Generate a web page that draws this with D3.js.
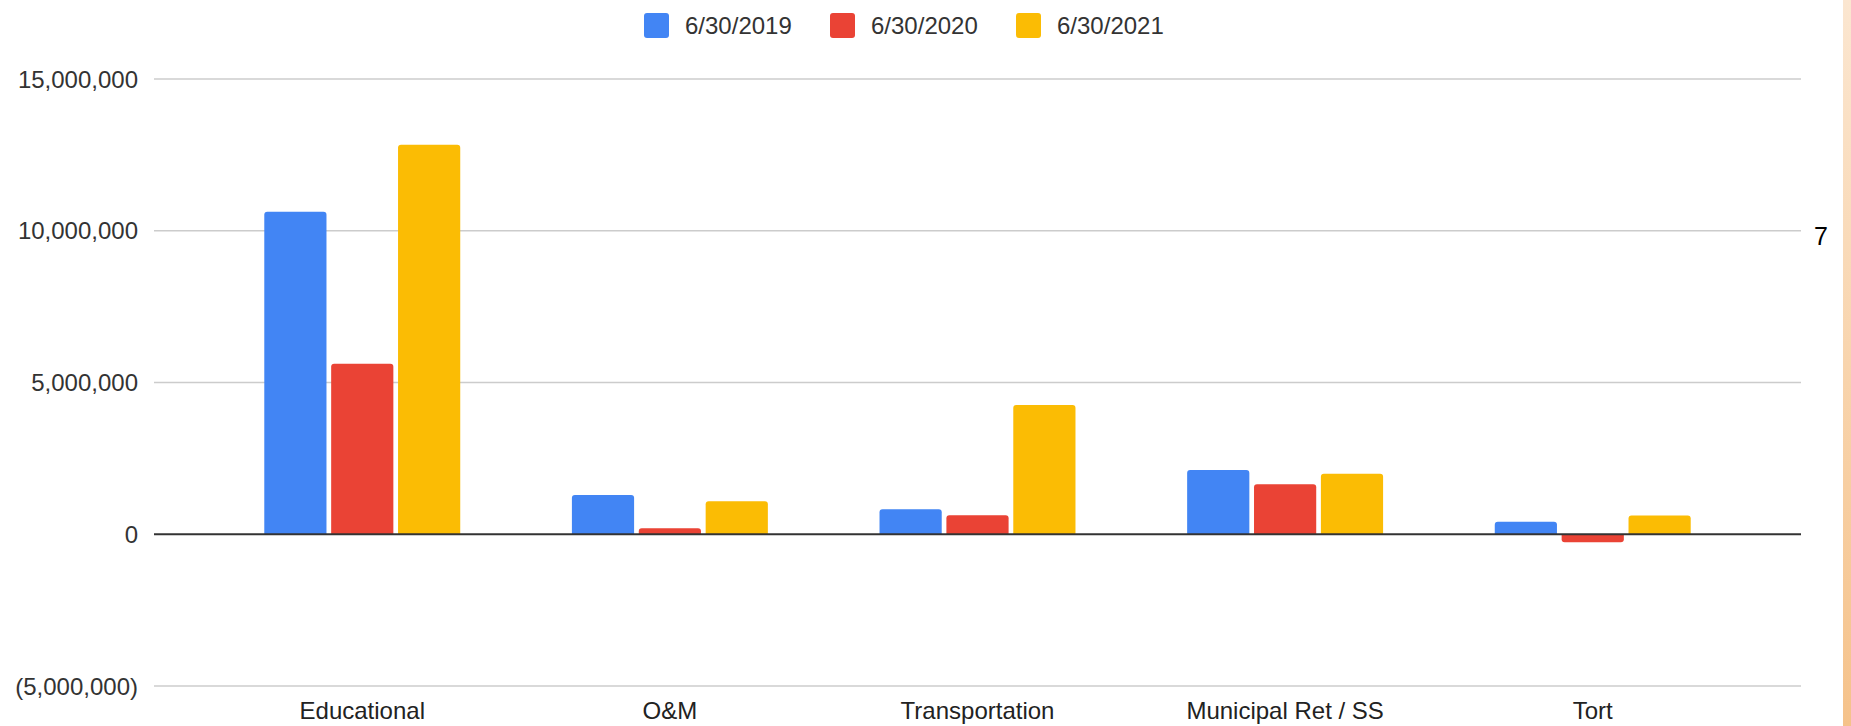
<!DOCTYPE html>
<html>
<head>
<meta charset="utf-8">
<script src="https://cdn.jsdelivr.net/npm/d3@7"></script>
<style>
  html, body { margin: 0; padding: 0; background: #fff; }
  svg { display: block; font-family: Arial, "Liberation Sans", sans-serif; }
</style>
</head>
<body>
<svg id="chart" width="1851" height="726"></svg>
<script>
// Fund balances by fund, three fiscal year-ends
const categories = ["Educational", "O&M", "Transportation", "Municipal Ret / SS", "Tort"];
const seriesNames = ["6/30/2019", "6/30/2020", "6/30/2021"];
const fy2019 = [10630000, 1290000, 820000, 2120000, 410000];
const fy2020 = [5620000, 200000, 630000, 1650000, -265000];
const fy2021 = [12830000, 1090000, 4260000, 1990000, 620000];
const seriesColors = ["#4285f4", "#ea4335", "#fbbc04"];
const yTicks = [-5000000, 0, 5000000, 10000000, 15000000];
const pageNumber = "7";

const series = [fy2019, fy2020, fy2021];

const W = 1851, H = 726;
const plot = { left: 154, right: 1801, top: 79, bottom: 686 };

const svg = d3.select("#chart");

// Decorative peach band at the right edge
const defs = svg.append("defs");
const grad = defs.append("linearGradient")
  .attr("id", "edgeBand").attr("x1", 0).attr("y1", 0).attr("x2", 0).attr("y2", 1);
grad.append("stop").attr("offset", "0%").attr("stop-color", "#fbe6d0");
grad.append("stop").attr("offset", "100%").attr("stop-color", "#f5c28a");
svg.append("rect")
  .attr("x", 1843).attr("y", 0).attr("width", W - 1843).attr("height", H)
  .attr("fill", "url(#edgeBand)");

const y = d3.scaleLinear()
  .domain([d3.min(yTicks), d3.max(yTicks)])
  .range([plot.bottom, plot.top]);

const x0 = d3.scaleBand()
  .domain(categories)
  .range([plot.left, plot.right])
  .paddingInner(0.363)
  .paddingOuter(0.3585);

const x1 = d3.scaleBand()
  .domain(seriesNames)
  .range([0, x0.bandwidth()])
  .paddingInner(0.07);

const fmt = v => {
  const s = d3.format(",")(Math.abs(v));
  return v < 0 ? "(" + s + ")" : s;
};

// Gridlines
svg.append("g").selectAll("line")
  .data(yTicks.filter(t => t !== 0))
  .join("line")
  .attr("x1", plot.left).attr("x2", plot.right)
  .attr("y1", d => y(d)).attr("y2", d => y(d))
  .attr("stroke", "#cccccc").attr("stroke-width", 1.5);

// Y axis labels
const yAxis = d3.axisLeft(y).tickValues(yTicks).tickFormat(fmt).tickSize(0).tickPadding(0);
const gy = svg.append("g").attr("transform", `translate(138,0)`).call(yAxis);
gy.select(".domain").remove();
gy.selectAll("text")
  .attr("font-size", 24)
  .attr("font-family", "Arial, 'Liberation Sans', sans-serif")
  .attr("fill", "#333")
  .attr("dy", "0.34em");

// Bars with rounded outer corners
function barPath(x, w, v) {
  const y0 = y(0), y1 = y(v);
  const r = Math.min(3, Math.abs(y1 - y0));
  if (v >= 0) {
    return `M${x},${y0}V${y1 + r}Q${x},${y1} ${x + r},${y1}H${x + w - r}Q${x + w},${y1} ${x + w},${y1 + r}V${y0}Z`;
  }
  return `M${x},${y0}V${y1 - r}Q${x},${y1} ${x + r},${y1}H${x + w - r}Q${x + w},${y1} ${x + w},${y1 - r}V${y0}Z`;
}

const groups = svg.append("g").selectAll("g")
  .data(categories)
  .join("g")
  .attr("transform", d => `translate(${x0(d)},0)`);

groups.selectAll("path")
  .data((d, i) => seriesNames.map((s, k) => ({ s, k, v: series[k][i] })))
  .join("path")
  .attr("d", d => barPath(x1(d.s), x1.bandwidth(), d.v))
  .attr("fill", d => seriesColors[d.k]);

// Zero baseline
svg.append("line")
  .attr("x1", plot.left).attr("x2", plot.right)
  .attr("y1", y(0)).attr("y2", y(0))
  .attr("stroke", "#333").attr("stroke-width", 2);

// X axis labels
const xAxis = d3.axisBottom(x0).tickSize(0).tickPadding(0);
const gx = svg.append("g").attr("transform", `translate(0,700)`).call(xAxis);
gx.select(".domain").remove();
gx.selectAll("text")
  .attr("font-size", 24)
  .attr("font-family", "Arial, 'Liberation Sans', sans-serif")
  .attr("fill", "#222")
  .attr("dy", "0.8em");

// Legend
const legend = svg.append("g").attr("transform", "translate(644,13)");
const item = legend.selectAll("g")
  .data(seriesNames)
  .join("g")
  .attr("transform", (d, i) => `translate(${i * 186},0)`);
item.append("rect")
  .attr("width", 25).attr("height", 25).attr("rx", 3)
  .attr("fill", (d, i) => seriesColors[i]);
item.append("text")
  .attr("x", 41).attr("y", 12.5).attr("dy", "0.35em")
  .attr("font-size", 24).attr("fill", "#333")
  .text(d => d);

// Page number
svg.append("text")
  .attr("x", 1814).attr("y", 245)
  .attr("font-size", 25).attr("fill", "#000")
  .text(pageNumber);
</script>
</body>
</html>
